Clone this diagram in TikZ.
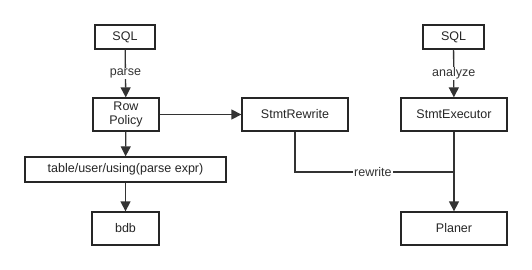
\documentclass[tikz,border=0pt]{standalone}
\usepackage{fontspec}
\setmainfont{Liberation Sans}
\usetikzlibrary{positioning, arrows.meta, calc}

\begin{document}
\begin{tikzpicture}[x=1pt, y=-1pt,
        stage/.style={rectangle, draw=black!85, line width=1.3pt, fill=white, inner sep=0pt, minimum height=33pt, align=center, font=\fontsize{12.5}{14.5}\selectfont, text=black!85},
        source/.style={stage, minimum width=60pt, minimum height=24pt},
        label/.style={fill=white, inner sep=1pt, font=\fontsize{12.5}{14}\selectfont, text=black!80},
        arrow/.style={-{Triangle[length=10pt, width=10pt]}, line width=1.3pt, black!80},
        link/.style={line width=1.3pt, black!80}%
    ]
        \useasboundingbox (0,0) rectangle (532,270);

        \node[source] (sql) at (125, 37) {SQL};
        \node[stage, minimum width=66pt] (policy) at (126, 114.5) {Row\\Policy};
        \node[stage, minimum width=201pt, minimum height=25pt] (expr) at (125.5, 169.5) {table/user/using(parse expr)};
        \node[stage, minimum width=67pt] (bdb) at (125.5, 228.5) {bdb};

        \node[stage, minimum width=106pt] (rewrite) at (295, 114.5) {StmtRewrite};

        \node[source, minimum width=61pt] (sqlb) at (453.5, 37) {SQL};
        \node[stage, minimum width=106pt] (exec) at (454, 114.5) {StmtExecutor};
        \node[stage, minimum width=106pt] (planer) at (454, 228.5) {Planer};

        \coordinate (merge) at (exec.south |- 0, 172);

        \draw[arrow] (sql) -- node[label] {parse} (policy);
        \draw[arrow] (policy) -- (expr);
        \draw[arrow] (expr) -- (bdb);
        \draw[arrow] (policy) -- (rewrite);

        \draw[arrow] (sqlb) -- node[label] {analyze} (exec);
        \draw[arrow] (exec) -- (planer);
        \draw[link] (rewrite) |- node[label, pos=0.745] {rewrite} (merge);
    \end{tikzpicture}
\end{document}
